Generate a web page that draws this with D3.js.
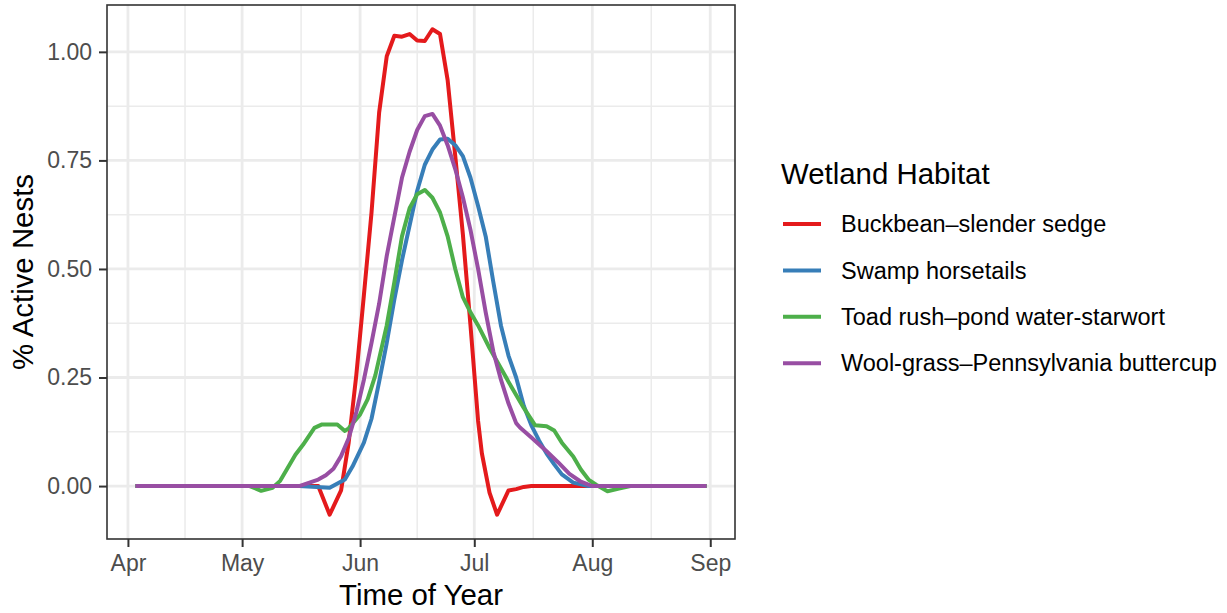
<!DOCTYPE html>
<html>
<head>
<meta charset="utf-8">
<script src="https://cdn.jsdelivr.net/npm/d3@7"></script>
<style>
  html, body { margin: 0; padding: 0; background: #fff; }
  svg { display: block; font-family: "Liberation Sans", Arial, sans-serif; }
</style>
</head>
<body>
<svg id="chart" width="1227" height="613"></svg>
<script>
// Habitat names and their Set1 colours
const habitats = [
  "Buckbean–slender sedge",
  "Swamp horsetails",
  "Toad rush–pond water-starwort",
  "Wool-grass–Pennsylvania buttercup"
];
const habitatColors = ["#E41A1C", "#377EB8", "#4DAF4A", "#984EA3"];

// Share of active nests through the season (dates are month-day, 2019)
const buckbeanDates = ["04-03","05-21","05-24","05-27","05-29","05-31","06-02","06-04","06-06","06-08","06-10","06-12","06-14","06-16","06-18","06-20","06-22","06-24","06-26","06-28","06-30","07-02","07-03","07-05","07-07","07-10","07-12","07-14","07-16","08-31"];
const buckbeanValues = [0,0,-0.066,-0.01,0.10,0.255,0.44,0.63,0.86,0.99,1.037,1.035,1.041,1.026,1.025,1.052,1.041,0.935,0.76,0.58,0.37,0.15,0.075,-0.015,-0.066,-0.01,-0.007,-0.002,0,0];

const horsetailDates = ["04-03","05-16","05-24","05-28","05-30","06-02","06-04","06-06","06-08","06-10","06-12","06-14","06-16","06-18","06-20","06-22","06-24","06-26","06-28","06-30","07-02","07-04","07-06","07-08","07-10","07-12","07-14","07-16","07-18","07-20","07-22","07-24","07-27","07-31","08-31"];
const horsetailValues = [0,0,-0.004,0.015,0.045,0.10,0.155,0.24,0.33,0.43,0.52,0.60,0.68,0.74,0.775,0.798,0.80,0.785,0.76,0.71,0.645,0.575,0.47,0.37,0.30,0.25,0.185,0.14,0.105,0.075,0.05,0.027,0.008,0,0];

const toadRushDates = ["04-03","05-03","05-06","05-09","05-11","05-15","05-17","05-20","05-22","05-26","05-28","05-29","06-01","06-03","06-05","06-08","06-10","06-12","06-14","06-16","06-18","06-20","06-22","06-24","06-26","06-28","06-30","07-02","07-05","07-10","07-14","07-17","07-20","07-22","07-24","07-27","07-29","07-31","08-02","08-05","08-08","08-11","08-31"];
const toadRushValues = [0,0,-0.011,-0.004,0.012,0.072,0.095,0.134,0.142,0.142,0.127,0.133,0.165,0.20,0.255,0.37,0.47,0.575,0.64,0.672,0.682,0.664,0.63,0.575,0.50,0.435,0.40,0.37,0.318,0.24,0.18,0.14,0.138,0.128,0.10,0.068,0.038,0.015,0.003,-0.012,-0.006,0,0];

const woolGrassDates = ["04-03","05-16","05-21","05-23","05-25","05-27","05-29","05-31","06-02","06-04","06-06","06-08","06-10","06-12","06-14","06-16","06-18","06-20","06-22","06-24","06-26","06-28","06-30","07-02","07-04","07-06","07-08","07-10","07-12","07-13","07-16","07-20","07-23","07-26","07-29","08-01","08-31"];
const woolGrassValues = [0,0,0.015,0.025,0.04,0.069,0.11,0.17,0.245,0.33,0.42,0.53,0.62,0.71,0.77,0.82,0.852,0.857,0.83,0.785,0.73,0.665,0.59,0.50,0.40,0.31,0.245,0.19,0.145,0.135,0.112,0.08,0.055,0.028,0.01,0,0];

// Axis labels and tick values
const yTickValues = [0, 0.25, 0.5, 0.75, 1.0];
const xTitle = "Time of Year";
const yTitle = "% Active Nests";
const legendTitle = "Wetland Habitat";

const parseDay = d3.utcParse("%Y-%m-%d");
const seriesDates = [buckbeanDates, horsetailDates, toadRushDates, woolGrassDates];
const seriesValues = [buckbeanValues, horsetailValues, toadRushValues, woolGrassValues];
const series = habitats.map((name, i) => ({
  name,
  color: habitatColors[i],
  points: seriesDates[i].map((s, j) => ({ date: parseDay("2019-" + s), value: seriesValues[i][j] }))
}));

// Panel geometry
const panel = { left: 107, right: 735, top: 5, bottom: 539 };
const svg = d3.select("#chart");

svg.append("rect").attr("width", 1227).attr("height", 613).attr("fill", "#fff");

// Continuous scales with a 5% expansion on each side
const allPts = series.flatMap(s => s.points);
const [t0, t1] = d3.extent(allPts, p => p.date);
const tPad = (t1 - t0) * 0.05;
const x = d3.scaleUtc()
  .domain([new Date(+t0 - tPad), new Date(+t1 + tPad)])
  .range([panel.left, panel.right]);
const [v0, v1] = d3.extent(allPts, p => p.value);
const vPad = (v1 - v0) * 0.05;
const y = d3.scaleLinear()
  .domain([v0 - vPad, v1 + vPad])
  .range([panel.bottom, panel.top]);

const xMajor = x.ticks(d3.utcMonth.every(1));
const xMinor = d3.pairs(xMajor).map(([a, b]) => new Date((+a + +b) / 2));
const yMinor = d3.pairs(yTickValues).map(([a, b]) => (a + b) / 2)
  .filter(v => v >= y.domain()[0] && v <= y.domain()[1]);

const grid = svg.append("g");
grid.selectAll(".xminor").data(xMinor).join("line")
  .attr("x1", d => x(d)).attr("x2", d => x(d))
  .attr("y1", panel.top).attr("y2", panel.bottom)
  .attr("stroke", "#EBEBEB").attr("stroke-width", 1.5);
grid.selectAll(".yminor").data(yMinor).join("line")
  .attr("x1", panel.left).attr("x2", panel.right)
  .attr("y1", d => y(d)).attr("y2", d => y(d))
  .attr("stroke", "#EBEBEB").attr("stroke-width", 1.5);
grid.selectAll(".xmajor").data(xMajor).join("line")
  .attr("x1", d => x(d)).attr("x2", d => x(d))
  .attr("y1", panel.top).attr("y2", panel.bottom)
  .attr("stroke", "#EBEBEB").attr("stroke-width", 2.8);
grid.selectAll(".ymajor").data(yTickValues).join("line")
  .attr("x1", panel.left).attr("x2", panel.right)
  .attr("y1", d => y(d)).attr("y2", d => y(d))
  .attr("stroke", "#EBEBEB").attr("stroke-width", 2.8);

// Habitat lines
const line = d3.line().x(p => x(p.date)).y(p => y(p.value));
svg.append("g").selectAll("path").data(series).join("path")
  .attr("d", s => line(s.points))
  .attr("fill", "none")
  .attr("stroke", s => s.color)
  .attr("stroke-width", 4)
  .attr("stroke-linejoin", "round")
  .attr("stroke-linecap", "butt");

// Panel border
svg.append("rect")
  .attr("x", panel.left).attr("y", panel.top)
  .attr("width", panel.right - panel.left).attr("height", panel.bottom - panel.top)
  .attr("fill", "none").attr("stroke", "#333333").attr("stroke-width", 1.6);

// Axes
const xAxis = svg.append("g")
  .attr("transform", `translate(0,${panel.bottom})`)
  .call(d3.axisBottom(x).tickValues(xMajor).tickFormat(d3.utcFormat("%b")).tickSize(8).tickPadding(8));
const yAxis = svg.append("g")
  .attr("transform", `translate(${panel.left},0)`)
  .call(d3.axisLeft(y).tickValues(yTickValues).tickFormat(d3.format(".2f")).tickSize(8).tickPadding(7));
[xAxis, yAxis].forEach(g => {
  g.select(".domain").remove();
  g.selectAll(".tick line").attr("stroke", "#333333").attr("stroke-width", 2);
  g.selectAll(".tick text")
    .attr("fill", "#4D4D4D")
    .style("font-size", "23px")
    .style("font-family", '"Liberation Sans", Arial, sans-serif');
});

// Axis titles
svg.append("text")
  .attr("x", (panel.left + panel.right) / 2).attr("y", 605)
  .attr("text-anchor", "middle")
  .style("font-size", "29.4px").attr("fill", "#000")
  .text(xTitle);
svg.append("text")
  .attr("transform", `translate(33,${(panel.top + panel.bottom) / 2}) rotate(-90)`)
  .attr("text-anchor", "middle")
  .style("font-size", "29.4px").attr("fill", "#000")
  .text(yTitle);

// Legend
const legend = svg.append("g").attr("transform", "translate(781,0)");
legend.append("text")
  .attr("x", 0).attr("y", 184)
  .style("font-size", "29.4px").attr("fill", "#000")
  .text(legendTitle);
const item = legend.selectAll(".item").data(series).join("g")
  .attr("transform", (d, i) => `translate(0,${224 + i * 46.4})`);
item.append("line")
  .attr("x1", 2).attr("x2", 40).attr("y1", 0).attr("y2", 0)
  .attr("stroke", d => d.color).attr("stroke-width", 4);
item.append("text")
  .attr("x", 60).attr("y", 0).attr("dy", "0.35em")
  .style("font-size", "23.5px").attr("fill", "#000")
  .text(d => d.name);
</script>
</body>
</html>
